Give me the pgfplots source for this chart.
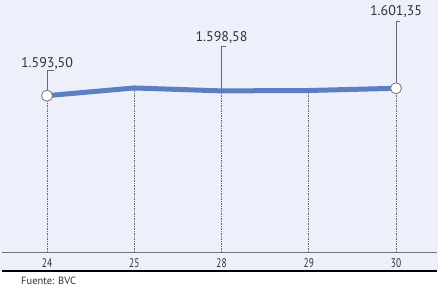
\documentclass[border=0pt]{standalone}
\usepackage{pgfplots}
\pgfplotsset{compat=1.18}
\usepackage{fontspec}
\setmainfont{PT Sans}
\definecolor{bg}{RGB}{237,240,250}
\definecolor{lineblue}{RGB}{92,127,196}
\definecolor{txt}{RGB}{50,50,50}
\definecolor{dashgray}{RGB}{105,105,110}
\newcommand{\tl}[1]{\scalebox{0.75}[1]{#1}}
\begin{document}
\begin{tikzpicture}[x=1pt,y=1pt]
\useasboundingbox (0,0) rectangle (438,289);
\fill[white] (0,0) rectangle (438,289);
\fill[bg] (0,18) rectangle (438,289);
\begin{axis}[
  at={(2pt,37pt)}, anchor=south west,
  scale only axis, width=435pt, height=252pt,
  xmin=-0.516, xmax=4.47,
  ymin=1427.7, ymax=1695.0,
  axis x line=bottom, axis y line=none,
  x axis line style={-, draw=gray!90!black, line width=1pt},
  xtick={0,1,2,3,4},
  xticklabels={\tl{24},\tl{25},\tl{28},\tl{29},\tl{30}},
  major tick length=0pt,
  xticklabel style={font=\fontsize{12.5}{14}\selectfont, text=txt, anchor=center, yshift=-11pt},
  ytick=\empty,
  clip mode=individual,
]
\addplot[ycomb, draw=dashgray, line width=0.6pt, dash pattern=on 1.5pt off 1pt, mark=none]
  coordinates {(0,1593.50) (1,1601.70) (2,1598.58) (3,1599.00) (4,1601.35)};
\draw[dashgray, line width=0.8pt] ([yshift=5pt]axis cs:0,1593.50) -- ([yshift=25pt]axis cs:0,1593.50) -- ([yshift=25pt,xshift=7pt]axis cs:0,1593.50);
\draw[dashgray, line width=0.8pt] ([yshift=2pt]axis cs:2,1598.58) -- ([yshift=44pt]axis cs:2,1598.58) -- ([yshift=44pt,xshift=4pt]axis cs:2,1598.58);
\draw[dashgray, line width=0.8pt] ([yshift=5pt]axis cs:4,1601.35) -- ([yshift=67pt]axis cs:4,1601.35) -- ([yshift=67pt,xshift=4pt]axis cs:4,1601.35);
\addplot[lineblue, line width=5pt, mark=none]
  coordinates {(0,1593.50) (1,1601.70) (2,1598.58) (3,1599.00) (4,1601.35)};
\addplot[only marks, mark=*, mark size=5.5pt, mark options={fill=white, draw=gray, line width=0.9pt}]
  coordinates {(0,1593.50) (4,1601.35)};
\node[text=txt, font=\fontsize{14}{16}\selectfont] at ([yshift=32pt]axis cs:0,1593.50) {1.593,50};
\node[text=txt, font=\fontsize{14}{16}\selectfont] at ([yshift=53.5pt]axis cs:2,1598.58) {1.598,58};
\node[text=txt, font=\fontsize{14}{16}\selectfont] at ([yshift=77pt]axis cs:4,1601.35) {1.601,35};
\end{axis}
\draw[black, line width=1.8pt] (2,18) -- (437,18);
\node[anchor=west, inner sep=0pt, text=txt, font=\fontsize{10.5}{12}\selectfont] at (21,8) {Fuente: BVC};
\end{tikzpicture}
\end{document}
